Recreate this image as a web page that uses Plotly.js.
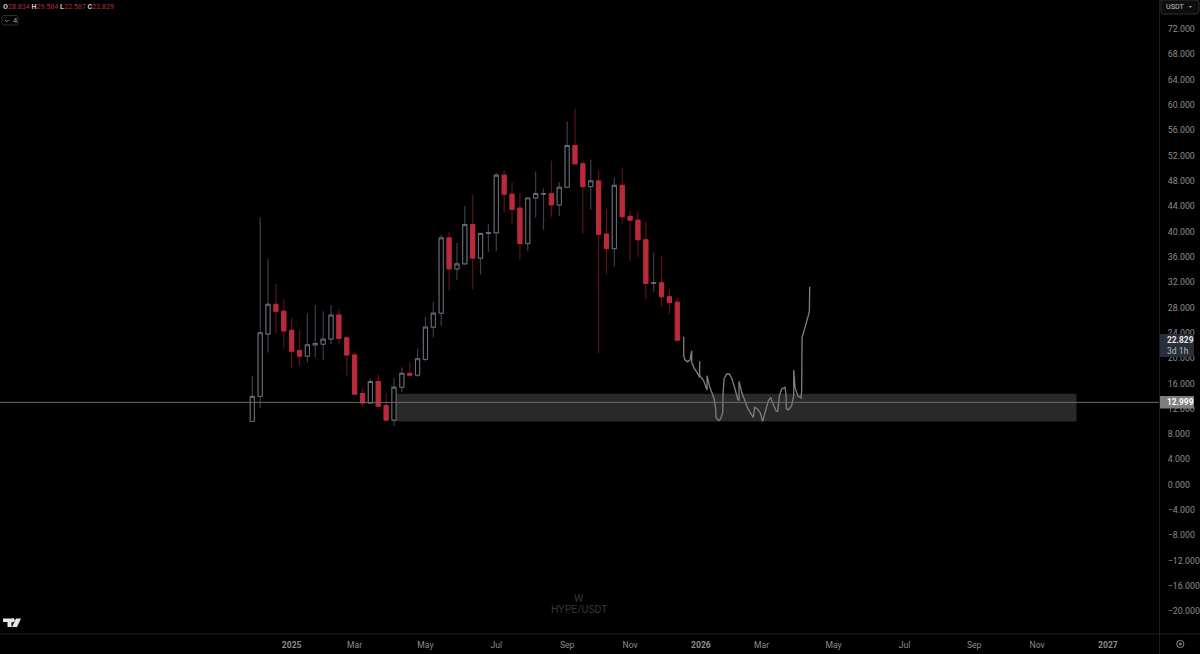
<!DOCTYPE html>
<html>
<head>
<meta charset="utf-8">
<script src="https://cdn.plot.ly/plotly-3.0.1.min.js"></script>
<style>html,body{margin:0;padding:0;background:#000;overflow:hidden}#chart{width:1200px;height:654px}</style>
</head>
<body>
<div id="chart"></div>
<script>
const weeks = ['2024-11-25','2024-12-02','2024-12-09','2024-12-16','2024-12-23','2024-12-30','2025-01-06','2025-01-13','2025-01-20','2025-01-27','2025-02-03','2025-02-10','2025-02-17','2025-02-24','2025-03-03','2025-03-10','2025-03-17','2025-03-24','2025-03-31','2025-04-07','2025-04-14','2025-04-21','2025-04-28','2025-05-05','2025-05-12','2025-05-19','2025-05-26','2025-06-02','2025-06-09','2025-06-16','2025-06-23','2025-06-30','2025-07-07','2025-07-14','2025-07-21','2025-07-28','2025-08-04','2025-08-11','2025-08-18','2025-08-25','2025-09-01','2025-09-08','2025-09-15','2025-09-22','2025-09-29','2025-10-06','2025-10-13','2025-10-20','2025-10-27','2025-11-03','2025-11-10','2025-11-17','2025-11-24','2025-12-01','2025-12-08'];
const opens  = [10.0,13.95,23.8,28.5,27.4,24.4,21.2,20.3,22.1,22.2,23.0,26.8,23.2,20.5,14.4,12.9,16.3,12.5,10.2,15.4,17.6,17.3,19.8,24.9,27.1,39.0,34.1,34.9,41.1,35.8,39.7,39.8,48.9,45.9,43.7,38.1,45.3,45.9,46.0,44.2,47.0,53.6,50.7,47.1,48.0,39.6,37.3,47.3,42.4,41.8,38.7,31.8,31.9,29.7,28.834];
const highs  = [17.2,42.2,35.7,31.7,29.3,26.3,24.4,27.1,28.4,27.4,28.4,27.8,23.5,21.1,15.4,16.75,17.4,14.5,16.9,18.5,19.4,21.5,26.5,28.9,39.45,40.0,38.2,44.0,45.8,39.8,41.2,49.3,49.7,47.8,46.1,45.4,49.5,46.8,51.2,47.8,57.4,59.4,51.2,51.4,49.7,43.6,48.5,50.1,43.3,43.2,41.6,36.7,36.2,30.9,29.584];
const lows   = [10.0,12.06,20.9,23.9,21.5,18.5,18.8,19.3,20.1,19.75,22.2,22.3,17.1,14.3,12.2,12.9,12.4,10.0,9.3,14.6,17.3,17.0,19.5,23.3,25.1,30.7,32.4,34.7,30.9,33.2,36.8,36.9,43.0,41.1,35.5,36.9,42.2,40.3,42.35,42.4,47.0,50.7,39.7,43.5,20.8,33.3,34.5,41.1,35.4,36.0,29.3,30.5,28.2,27.0,22.587];
const closes = [13.95,24.0,28.5,27.4,24.3,21.1,20.3,22.1,22.3,23.0,26.8,23.1,20.5,14.3,12.9,16.3,12.4,10.2,15.4,17.6,17.3,19.9,24.9,27.1,39.0,34.1,34.9,41.1,35.8,39.7,39.85,48.9,45.9,43.5,38.1,45.3,46.0,46.0,44.2,47.0,53.6,50.7,47.1,48.0,39.55,37.3,47.3,42.35,41.8,38.7,31.8,31.9,29.7,28.8,22.829];

const sketchWeeks  = [54.81,54.81,54.98,55.28,55.62,55.83,55.83,56.12,56.67,56.84,56.84,56.84,57.31,57.61,57.78,57.78,58.07,58.37,58.67,58.88,58.92,59.22,59.51,59.77,59.81,59.94,60.28,60.61,60.95,61.33,61.67,61.84,61.84,62.18,62.60,62.90,63.24,63.66,63.83,64.17,64.51,64.85,65.15,65.57,65.87,66.12,66.54,66.76,66.97,67.26,67.69,67.81,67.86,68.11,68.53,68.79,68.79,68.96,69.30,69.72,69.80,69.85,70.23,70.78,70.82];
const sketchPrices = [23.39,20.39,19.70,19.44,19.70,21.18,19.33,18.44,17.38,16.96,19.49,17.23,16.54,15.64,14.96,17.23,15.64,14.59,13.54,11.96,10.64,10.11,10.38,11.43,14.33,16.70,17.49,17.49,16.70,15.12,13.54,13.27,16.33,14.59,13.01,12.22,11.43,10.64,12.22,11.96,11.43,10.01,11.43,13.27,13.80,12.85,11.69,11.59,14.06,15.12,15.38,14.33,11.96,11.85,12.48,14.06,18.12,15.38,14.06,13.70,14.85,23.28,24.86,27.39,31.29];

const zoneStart = '2025-03-31', zoneEnd = '2026-11-28', zoneTop = 14.38, zoneBottom = 10.0;
const levelPrice = 12.999;

const xTickDates = ['2024-12-30','2025-02-24','2025-04-28','2025-06-30','2025-09-01','2025-10-27','2025-12-29','2026-02-21','2026-04-26','2026-06-28','2026-08-29','2026-10-24','2026-12-26'];
const xTickLabels = ['<b>2025</b>','Mar','May','Jul','Sep','Nov','<b>2026</b>','Mar','May','Jul','Sep','Nov','<b>2027</b>'];

const FONT = 'Roboto, sans-serif';
const W = 1160, H = 634;
const px = v => v / W, py = v => (H - v) / H;
const startMs = Date.parse(weeks[0] + 'T00:00:00Z');
const sketchDates = sketchWeeks.map(w => new Date(startMs + w * 7 * 864e5).toISOString());
const bodyHigh = opens.map((o, i) => Math.max(o, closes[i]));
const bodyLow = opens.map((o, i) => Math.min(o, closes[i]));

const UP_LINE = '#6c6f77', UP_WICK = '#3a3e48', DN = '#b82b3b', DN_WICK = '#5e111b';

const traces = [
  {type:'candlestick', x:weeks, open:opens, high:highs, low:lows, close:closes, whiskerwidth:0,
   increasing:{line:{color:UP_WICK,width:1.2},fillcolor:'#000'},
   decreasing:{line:{color:DN_WICK,width:1.2},fillcolor:DN}, showlegend:false, hoverinfo:'skip'},
  {type:'candlestick', x:weeks, open:opens, high:bodyHigh, low:bodyLow, close:closes, whiskerwidth:0,
   increasing:{line:{color:UP_LINE,width:1},fillcolor:'#000'},
   decreasing:{line:{color:DN,width:1},fillcolor:DN}, showlegend:false, hoverinfo:'skip'},
  {type:'scatter', mode:'lines', x:sketchDates, y:sketchPrices, line:{color:'#7f7f7f',width:1.3}, showlegend:false, hoverinfo:'skip'}
];

const paperRect = (x0,y0,x1,y1,fill) => ({type:'rect',xref:'paper',yref:'paper',x0:px(x0),x1:px(x1),y0:py(y0),y1:py(y1),fillcolor:fill,line:{width:0},layer:'above'});
const paperLine = (x0,y0,x1,y1,c,w) => ({type:'line',xref:'paper',yref:'paper',x0:px(x0),x1:px(x1),y0:py(y0),y1:py(y1),line:{color:c,width:w},layer:'above'});
const paperPath = (pts,fill,line) => ({type:'path',xref:'paper',yref:'paper',
  path:pts.map((p,i)=>(i?'L':'M')+px(p[0])+','+py(p[1])).join(' ')+(fill?' Z':''),fillcolor:fill||'rgba(0,0,0,0)',line:line||{width:0},layer:'above'});
const circle = (cx,cy,r,c,fill) => ({type:'circle',xref:'paper',yref:'paper',x0:px(cx-r),x1:px(cx+r),y0:py(cy-r),y1:py(cy+r),line:{color:c,width:1},fillcolor:fill||'rgba(0,0,0,0)',layer:'above'});

const shapes = [
  {type:'rect',xref:'x',yref:'y',x0:zoneStart,x1:zoneEnd,y0:zoneBottom,y1:zoneTop,fillcolor:'#292929',line:{width:0},layer:'below'},
  {type:'line',xref:'paper',yref:'y',x0:0,x1:1,y0:levelPrice,y1:levelPrice,line:{color:'#686868',width:1},layer:'above'},
  paperLine(1159.5,0,1159.5,654,'#1c1c1c',1),
  paperLine(0,634,1200,634,'#1c1c1c',1),
  paperRect(1160,334,1194,357,'#2a2e39'),
  paperRect(1160,396,1194,408.5,'#7e7e7e'),
  {type:'path',xref:'paper',yref:'paper',path:`M${px(1163)},${py(0)} L${px(1196)},${py(0)} Q${px(1199)},${py(0)} ${px(1199)},${py(3)} L${px(1199)},${py(11)} Q${px(1199)},${py(14)} ${px(1196)},${py(14)} L${px(1163)},${py(14)} Q${px(1161)},${py(14)} ${px(1161)},${py(11)} L${px(1161)},${py(0)} Z`,fillcolor:'#0d0d0d',line:{color:'#2e2e2e',width:1},layer:'above'},
  {type:'path',xref:'paper',yref:'paper',path:`M${px(4)},${py(15.5)} L${px(16)},${py(15.5)} Q${px(18)},${py(15.5)} ${px(18)},${py(17.5)} L${px(18)},${py(23)} Q${px(18)},${py(25)} ${px(16)},${py(25)} L${px(4)},${py(25)} Q${px(2)},${py(25)} ${px(2)},${py(23)} L${px(2)},${py(17.5)} Q${px(2)},${py(15.5)} ${px(4)},${py(15.5)} Z`,fillcolor:'#000',line:{color:'#2e2e2e',width:1},layer:'above'},
  paperPath([[5,20],[6.8,21.8],[8.6,20]],null,{color:'#9a9a9a',width:1}),
  paperPath([[3,618.5],[11.5,618.5],[11.5,627],[7.5,627],[7.5,622],[3,622]],'#e8e8e8'),
  circle(12.6,620.2,1.7,'#e8e8e8','#e8e8e8'),
  paperPath([[16,618.5],[21,618.5],[17,627],[12,627]],'#e8e8e8'),
  circle(1180.3,644,3.6,'#8a8a8a'),
  circle(1180.3,644,1,'#8a8a8a','#8a8a8a'),
  paperPath([[1189,6],[1192,6],[1190.5,8]],'#a0a0a0')
];

const note = (x,y,text,size,color,anchor,extra) => Object.assign({xref:'paper',yref:'paper',x:px(x),y:py(y),text,showarrow:false,
  xanchor:anchor||'left',yanchor:'middle',borderpad:0,font:{family:FONT,size,color}},extra||{});
const lb = s => `<span style="color:#c8c8c8"><b>${s}</b></span>`;
const rd = s => `<span style="color:#a8303c">${s}</span>`;

const annotations = [
  note(2,6.5,`${lb('O')}${rd('28.834')} ${lb('H')}${rd('29.584')} ${lb('L')}${rd('22.587')} ${lb('C')}${rd('22.829')}`,7.1,'#a8303c'),
  note(12,20.3,'4',7.5,'#a8a8a8'),
  note(1165,6.8,'USDT',7.2,'#c0c0c0'),
  note(579,598,'W',10.5,'#363636','center'),
  note(579,609,'HYPE/USDT',10.5,'#363636','center'),
  note(1165.5,340,'<b>22.829</b>',8.4,'#e4e4e4'),
  note(1165.5,350.5,'3d 1h',8.6,'#b9bcc4'),
  note(1165.5,402.3,'<b>12.999</b>',8.4,'#ffffff')
];

const layout = {
  width:1200, height:654, paper_bgcolor:'#000', plot_bgcolor:'#000',
  margin:{l:0,r:40,t:0,b:20,pad:0}, showlegend:false, boxgap:0.25,
  font:{family:FONT,color:'#8c8c8c',size:9},
  xaxis:{type:'date',range:['2024-04-14 14:24','2027-02-10 07:12'],tickmode:'array',tickvals:xTickDates,ticktext:xTickLabels,
    showgrid:false,zeroline:false,showline:false,ticks:'outside',ticklen:3,tickcolor:'rgba(0,0,0,0)',tickangle:0,
    rangeslider:{visible:false},tickfont:{family:FONT,size:8.6,color:'#8c8c8c'},fixedrange:true},
  yaxis:{side:'right',range:[-23.60,76.59],tick0:0,dtick:4,tickformat:'.3f',showgrid:false,zeroline:false,showline:false,
    ticks:'outside',ticklen:5,tickcolor:'rgba(0,0,0,0)',tickfont:{family:FONT,size:8.8,color:'#8c8c8c'},fixedrange:true},
  shapes, annotations
};
Plotly.newPlot('chart',traces,layout,{displayModeBar:false,staticPlot:true});
</script>
</body>
</html>
